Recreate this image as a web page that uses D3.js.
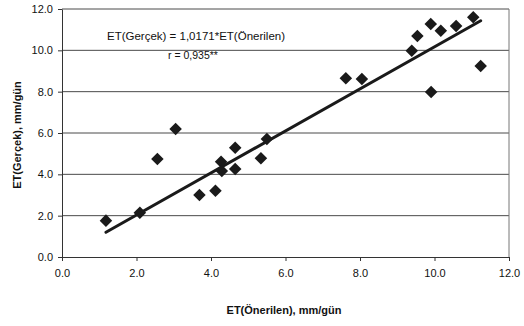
<!DOCTYPE html>
<html>
<head>
<meta charset="utf-8">
<script src="https://cdn.jsdelivr.net/npm/d3@7"></script>
<style>
  html, body { margin: 0; padding: 0; background: #fff; }
  svg { display: block; }
  text { font-family: "Liberation Sans", Arial, sans-serif; fill: #111; }
</style>
</head>
<body>
<svg id="chart" width="524" height="326"></svg>
<script>
// Proposed (Önerilen) vs. measured (Gerçek) ET, mm/day
const etOnerilen = [1.18, 2.09, 2.56, 3.05, 3.69, 4.12, 4.27, 4.29, 4.65, 4.65, 5.34,
                    5.50, 7.62, 8.05, 9.39, 9.54, 9.90, 10.17, 10.58, 11.04, 11.24, 9.91];
const etGercek   = [1.76, 2.14, 4.74, 6.19, 3.00, 3.21, 4.61, 4.16, 5.29, 4.26, 4.78,
                    5.71, 8.65, 8.61, 9.98, 10.69, 11.27, 10.95, 11.18, 11.60, 9.24, 7.98];
const xTicks = [0, 2, 4, 6, 8, 10, 12];
const yTicks = [0, 2, 4, 6, 8, 10, 12];
const slope = 1.0171;            // fitted line through origin
const fitRange = [1.18, 11.24];  // x extent of fitted line
const equationText = "ET(Gerçek) = 1,0171*ET(Önerilen)";
const rText = "r = 0,935**";

const svg = d3.select("#chart");
const plotL = 62, plotR = 509, plotT = 9, plotB = 257;

const x = d3.scaleLinear().domain([0, 12]).range([plotL, plotR]);
const y = d3.scaleLinear().domain([0, 12]).range([plotB, plotT]);

// horizontal gridlines
svg.append("g").selectAll("line").data(yTicks.filter(d => d > 0)).join("line")
  .attr("x1", plotL).attr("x2", plotR)
  .attr("y1", d => y(d)).attr("y2", d => y(d))
  .attr("stroke", "#4a4a4a").attr("stroke-width", 1);

// right border of plot area
svg.append("line")
  .attr("x1", plotR).attr("x2", plotR).attr("y1", plotT).attr("y2", plotB)
  .attr("stroke", "#777").attr("stroke-width", 1);

// x axis
const xAxis = svg.append("g").attr("transform", `translate(0,${plotB})`)
  .call(d3.axisBottom(x).tickValues(xTicks).tickFormat(d3.format(".1f")).tickSize(4).tickSizeOuter(0));
xAxis.select(".domain").attr("stroke", "#333");
xAxis.selectAll(".tick line").attr("stroke", "#333");
xAxis.selectAll("text").attr("font-size", 11).attr("dy", "1.2em").attr("fill", "#111")
  .style("font-family", "Liberation Sans, Arial, sans-serif");

// y axis
const yAxis = svg.append("g").attr("transform", `translate(${plotL},0)`)
  .call(d3.axisLeft(y).tickValues(yTicks).tickFormat(d3.format(".1f")).tickSize(4).tickSizeOuter(0));
yAxis.select(".domain").attr("stroke", "#333");
yAxis.selectAll(".tick line").attr("stroke", "#333");
yAxis.selectAll("text").attr("font-size", 11).attr("x", -9).attr("fill", "#111")
  .style("font-family", "Liberation Sans, Arial, sans-serif");

// axis titles
svg.append("text")
  .attr("x", 284).attr("y", 314).attr("text-anchor", "middle")
  .attr("font-size", 11).attr("font-weight", "bold")
  .text("ET(Önerilen), mm/gün");
svg.append("text")
  .attr("transform", `translate(21,135) rotate(-90)`).attr("text-anchor", "middle")
  .attr("font-size", 11).attr("font-weight", "bold")
  .text("ET(Gerçek), mm/gün");

// fitted line
svg.append("line")
  .attr("x1", x(fitRange[0])).attr("y1", y(slope * fitRange[0]))
  .attr("x2", x(fitRange[1])).attr("y2", y(slope * fitRange[1]))
  .attr("stroke", "#1a1a1a").attr("stroke-width", 3).attr("stroke-linecap", "round");

// diamond markers
const points = etOnerilen.map((v, i) => [v, etGercek[i]]);
svg.append("g").selectAll("path").data(points).join("path")
  .attr("transform", d => `translate(${x(d[0])},${y(d[1])})`)
  .attr("d", d3.symbol(d3.symbolDiamond2, 100)())
  .attr("fill", "#1a1a1a");

// regression annotation
svg.append("text")
  .attr("x", 196).attr("y", 40).attr("text-anchor", "middle")
  .attr("font-size", 11.5).text(equationText);
svg.append("text")
  .attr("x", 193).attr("y", 59).attr("text-anchor", "middle")
  .attr("font-size", 10.5).text(rText);
</script>
</body>
</html>
